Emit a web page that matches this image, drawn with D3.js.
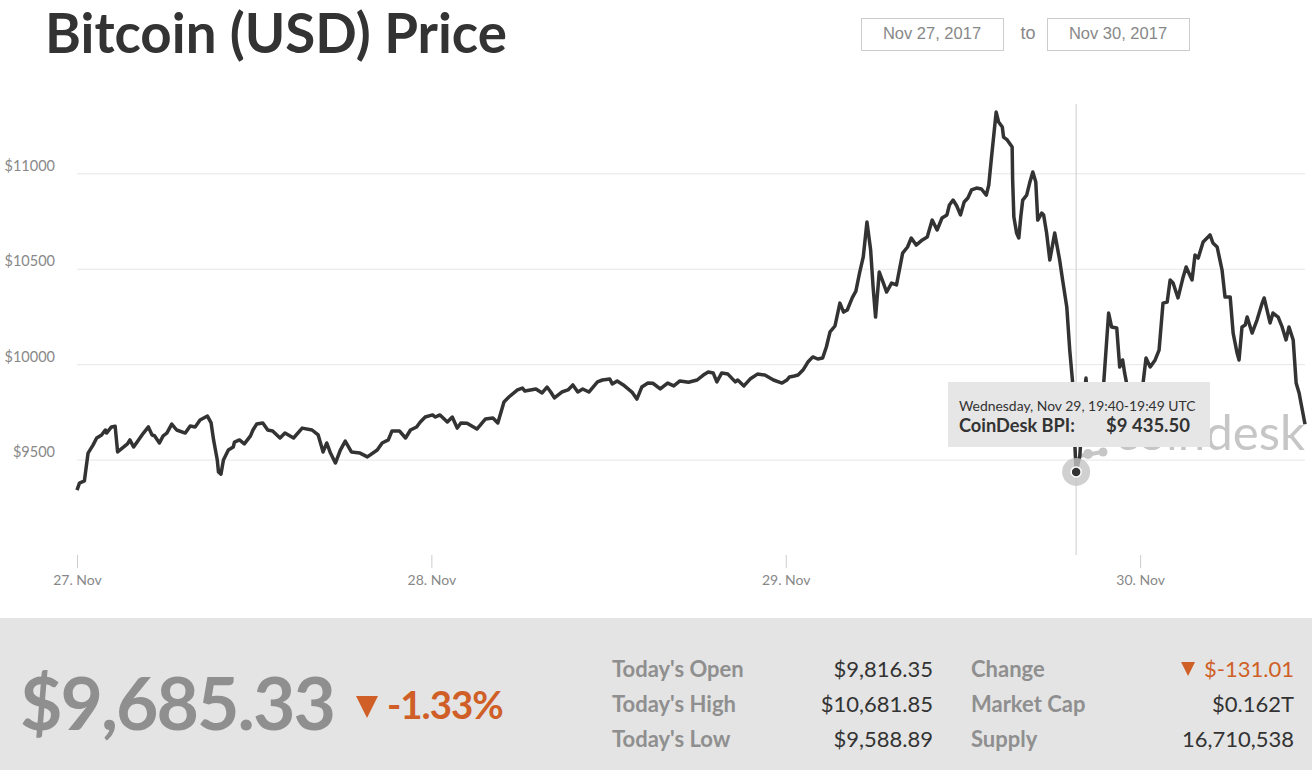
<!DOCTYPE html>
<html>
<head>
<meta charset="utf-8">
<title>Bitcoin (USD) Price</title>
<script src="https://cdnjs.cloudflare.com/ajax/libs/d3/7.8.5/d3.min.js"></script>
<style>
  body { margin: 0; background: #fff; }
  svg { display: block; }
</style>
</head>
<body>
<script>
// CoinDesk BPI readings, [UTC time of day, USD]
var nov27 = [["00:00",9340],["00:10",9377],["00:30",9388],["00:45",9534],["01:05",9576],["01:20",9613],["01:40",9629],["01:55",9655],["02:00",9639],["02:20",9671],["02:35",9675],["02:45",9540],["03:05",9561],["03:25",9582],["03:35",9603],["03:50",9566],["04:10",9603],["04:30",9639],["04:50",9671],["05:05",9629],["05:15",9625],["05:35",9587],["05:50",9624],["06:05",9639],["06:25",9686],["06:45",9655],["07:20",9639],["07:40",9676],["08:00",9671],["08:20",9707],["08:50",9728],["09:05",9692],["09:15",9603],["09:30",9498],["09:35",9435],["09:45",9424],["09:55",9498],["10:15",9550],["10:35",9566],["10:40",9592],["11:00",9603],["11:20",9582],["11:45",9624],["11:55",9655],["12:10",9686],["12:35",9692],["12:55",9655],["13:15",9650],["13:45",9613],["14:05",9639],["14:40",9613],["15:15",9665],["15:55",9655],["16:20",9629],["16:40",9540],["16:55",9587],["17:10",9534],["17:30",9482],["17:50",9550],["18:10",9597],["18:35",9540],["19:10",9534],["19:40",9514],["20:20",9550],["20:40",9587],["21:05",9603],["21:20",9650],["21:50",9650],["22:15",9613],["22:35",9655],["23:00",9671],["23:15",9697],["23:35",9723]];

var nov28 = [["00:05",9734],["00:15",9723],["00:35",9734],["01:05",9697],["01:25",9723],["01:45",9665],["02:00",9692],["02:25",9690],["03:05",9660],["03:40",9713],["04:10",9718],["04:30",9692],["04:55",9802],["05:15",9828],["05:50",9865],["06:10",9875],["06:20",9859],["07:05",9870],["07:30",9849],["07:50",9880],["08:05",9854],["08:20",9823],["08:50",9854],["09:15",9865],["09:35",9891],["09:55",9854],["10:15",9870],["10:40",9854],["11:15",9907],["11:35",9917],["12:05",9922],["12:15",9896],["12:35",9912],["13:00",9891],["13:35",9854],["13:55",9817],["14:15",9880],["14:40",9901],["15:00",9900],["15:30",9870],["16:00",9901],["16:25",9886],["16:50",9912],["17:25",9905],["18:00",9917],["18:25",9943],["18:45",9959],["19:05",9954],["19:20",9907],["19:40",9954],["20:05",9948],["20:35",9907],["20:45",9917],["21:10",9886],["21:35",9922],["22:05",9948],["22:35",9943],["23:10",9917],["23:45",9901]];

var nov29 = [["00:05",9917],["00:15",9933],["00:35",9938],["00:50",9943],["01:10",9969],["01:30",10011],["01:50",10038],["02:10",10027],["02:30",10032],["02:45",10090],["03:00",10169],["03:20",10200],["03:40",10320],["03:55",10273],["04:10",10284],["04:30",10347],["04:45",10383],["05:00",10478],["05:15",10562],["05:30",10745],["05:45",10598],["05:55",10404],["06:05",10247],["06:20",10483],["06:35",10431],["06:50",10378],["07:10",10425],["07:30",10415],["07:55",10582],["08:15",10614],["08:30",10661],["08:50",10624],["09:15",10651],["09:35",10666],["09:55",10755],["10:15",10703],["10:35",10766],["10:55",10782],["11:05",10834],["11:20",10860],["11:35",10829],["11:50",10782],["12:05",10850],["12:20",10871],["12:35",10913],["12:55",10923],["13:15",10918],["13:35",10886],["13:45",10939],["13:55",11070],["14:15",11321],["14:25",11269],["14:40",11243],["14:45",11190],["15:00",11175],["15:20",11138],["15:22",10965],["15:27",10771],["15:38",10687],["15:47",10661],["15:55",10771],["16:03",10860],["16:19",10886],["16:31",10949],["16:44",11007],["16:56",10955],["17:04",10755],["17:20",10792],["17:28",10782],["17:40",10687],["17:53",10546],["18:13",10687],["18:33",10546],["18:45",10441],["19:02",10300],["19:14",10074],["19:26",9901],["19:32",9655],["19:40",9435.5],["19:55",9520],["20:08",9780],["20:20",9927],["20:32",9710],["20:59",9650],["21:27",9700],["21:32",9901],["21:52",10268],["22:04",10195],["22:25",10190],["22:37",9985],["22:49",10022],["22:57",9954],["23:05",9901],["23:21",9710],["23:41",9760]];

var nov30 = [["00:12",9901],["00:24",10032],["00:41",9985],["01:01",10022],["01:17",10074],["01:33",10320],["01:50",10326],["02:02",10441],["02:14",10425],["02:34",10347],["02:55",10457],["03:07",10509],["03:31",10441],["03:43",10572],["03:56",10556],["04:16",10640],["04:44",10677],["04:56",10635],["05:13",10614],["05:33",10493],["05:45",10352],["06:06",10352],["06:18",10163],["06:34",10058],["06:42",10022],["06:54",10195],["07:07",10205],["07:15",10247],["07:35",10163],["07:55",10231],["08:16",10320],["08:24",10347],["08:48",10216],["09:00",10268],["09:21",10247],["09:37",10195],["09:53",10127],["10:05",10195],["10:22",10127],["10:34",9901],["10:46",9849],["11:10",9685.33]];

var yTicks = [9500, 10000, 10500, 11000];
var dayTicks = ["2017-11-27 00:00", "2017-11-28 00:00", "2017-11-29 00:00", "2017-11-30 00:00"];
var dateRange = ["Nov 27, 2017", "Nov 30, 2017"];

var hoverTime = "2017-11-29 19:40";
var hoverPrice = 9435.50;
var hoverLabel = "Wednesday, Nov 29, 19:40-19:49 UTC";

var currentPrice = "$9,685.33";
var currentChange = "-1.33%";
var statLabels = ["Today's Open", "Today's High", "Today's Low"];
var statValues = ["$9,816.35", "$10,681.85", "$9,588.89"];
var infoLabels = ["Change", "Market Cap", "Supply"];
var infoValues = ["$-131.01", "$0.162T", "16,710,538"];

var W = 1312, H = 770;
var sans = "Lato, 'Open Sans', sans-serif";
var orange = "#cf5f26";

var parse = d3.utcParse("%Y-%m-%d %H:%M");
function day(date, rows) {
    return rows.map(function(r) { return {t: parse(date + " " + r[0]), v: r[1]}; });
}
var series = day("2017-11-27", nov27)
    .concat(day("2017-11-28", nov28))
    .concat(day("2017-11-29", nov29))
    .concat(day("2017-11-30", nov30));

var x = d3.scaleUtc()
    .domain([parse("2017-11-27 00:00"), parse("2017-11-30 11:10")])
    .range([77, 1305]);
var y = d3.scaleLinear()
    .domain([9000, 11400])
    .range([555, 97]);

var svg = d3.select("body").append("svg")
    .attr("width", W)
    .attr("height", H);

function fit(sel, w) {
    var len = sel.node().getComputedTextLength();
    sel.attr("font-size", parseFloat(sel.attr("font-size")) * w / len);
}

// title
svg.append("text")
    .attr("x", 45).attr("y", 53)
    .attr("font-family", sans).attr("font-weight", 700)
    .attr("font-size", 48).attr("fill", "#333")
    .text("Bitcoin (USD) Price")
    .call(fit, 462);

// date range boxes
var boxX = [861, 1047];
dateRange.forEach(function(d, i) {
    svg.append("rect")
        .attr("x", boxX[i] + 0.5).attr("y", 18.5)
        .attr("width", 142).attr("height", 32)
        .attr("fill", "#fff").attr("stroke", "#ccc");
    svg.append("text")
        .attr("x", boxX[i] + 71).attr("y", 39)
        .attr("text-anchor", "middle")
        .attr("font-family", "'Liberation Sans', Arial, sans-serif")
        .attr("font-size", 16.5).attr("fill", "#888")
        .text(d);
});
svg.append("text")
    .attr("x", 1028).attr("y", 39)
    .attr("text-anchor", "middle")
    .attr("font-family", "'Liberation Sans', Arial, sans-serif")
    .attr("font-size", 18).attr("fill", "#888")
    .text("to");

// y grid + labels
var yAxis = svg.append("g")
    .attr("transform", "translate(77,0)")
    .call(d3.axisLeft(y).tickValues(yTicks).tickSize(-(1305 - 77))
        .tickFormat(function(d) { return "$" + d; }));
yAxis.select(".domain").remove();
yAxis.selectAll(".tick line").attr("stroke", "#e6e6e6");
yAxis.selectAll(".tick text")
    .attr("x", -22).attr("y", -3).attr("dy", null)
    .attr("font-family", sans).attr("font-size", 14.5).attr("fill", "#888");

// x axis
var xAxis = svg.append("g")
    .attr("transform", "translate(0,555)")
    .call(d3.axisBottom(x).tickValues(dayTicks.map(parse)).tickSize(13)
        .tickFormat(d3.utcFormat("%-d. %b")));
xAxis.select(".domain").remove();
xAxis.selectAll(".tick line").attr("stroke", "#ccc");
xAxis.selectAll(".tick text")
    .attr("y", 20)
    .attr("font-family", sans).attr("font-size", 14).attr("fill", "#888");

// coindesk watermark (mostly behind the tooltip)
var wm = svg.append("g").attr("fill", "#c6c6c6");
wm.append("text")
    .attr("x", 1305).attr("y", 450)
    .attr("text-anchor", "end")
    .attr("font-family", sans).attr("font-size", 46)
    .text("coindesk")
    .call(fit, 190);
wm.append("line")
    .attr("x1", 1080).attr("y1", 456).attr("x2", 1102).attr("y2", 452)
    .attr("stroke", "#c6c6c6").attr("stroke-width", 4);
wm.append("circle").attr("cx", 1088).attr("cy", 454).attr("r", 5);
wm.append("circle").attr("cx", 1103).attr("cy", 452).attr("r", 4.5);

// crosshair
var hx = x(parse(hoverTime));
svg.append("line")
    .attr("x1", hx).attr("x2", hx)
    .attr("y1", 104).attr("y2", 555)
    .attr("stroke", "#ccc").attr("stroke-width", 1);

// price line
var line = d3.line()
    .x(function(d) { return x(d.t); })
    .y(function(d) { return y(d.v); });
svg.append("path")
    .datum(series)
    .attr("fill", "none")
    .attr("stroke", "#333")
    .attr("stroke-width", 3.5)
    .attr("stroke-linejoin", "round")
    .attr("d", line);

// hover marker
svg.append("circle")
    .attr("cx", hx).attr("cy", y(hoverPrice)).attr("r", 14)
    .attr("fill", "#c4c4c4").attr("opacity", 0.8);
svg.append("circle")
    .attr("cx", hx).attr("cy", y(hoverPrice)).attr("r", 5)
    .attr("fill", "#333").attr("stroke", "#fff").attr("stroke-width", 1.5);

// tooltip
var tip = svg.append("g").attr("transform", "translate(948,382)");
tip.append("rect")
    .attr("width", 262).attr("height", 65)
    .attr("fill", "#e6e6e6");
tip.append("text")
    .attr("x", 11).attr("y", 29)
    .attr("font-family", sans).attr("font-size", 12.5).attr("fill", "#333")
    .text(hoverLabel)
    .call(fit, 237);
tip.append("text")
    .attr("x", 11).attr("y", 50)
    .attr("font-family", sans).attr("font-weight", 700)
    .attr("font-size", 15).attr("fill", "#333")
    .text("CoinDesk BPI:")
    .call(fit, 116);
tip.append("text")
    .attr("x", 158).attr("y", 50)
    .attr("font-family", sans).attr("font-weight", 700)
    .attr("font-size", 15).attr("fill", "#333")
    .text("$" + d3.format(",.2f")(hoverPrice).replace(",", " "))
    .call(fit, 84);

// summary panel
svg.append("rect")
    .attr("x", 0).attr("y", 618)
    .attr("width", W).attr("height", H - 618)
    .attr("fill", "#e4e4e4");

svg.append("text")
    .attr("x", 20).attr("y", 730)
    .attr("font-family", sans).attr("font-weight", 700)
    .attr("font-size", 66).attr("fill", "#8f8f8f")
    .attr("letter-spacing", -2)
    .text(currentPrice)
    .call(fit, 312);

svg.append("path")
    .attr("d", "M356,696 L378,696 L367,718 Z")
    .attr("fill", orange);
svg.append("text")
    .attr("x", 387).attr("y", 719)
    .attr("font-family", sans).attr("font-weight", 700)
    .attr("font-size", 34).attr("fill", orange)
    .attr("letter-spacing", -1)
    .text(currentChange)
    .call(fit, 115);

var rowY = [677, 712, 747];
var statFont = 22;
statLabels.forEach(function(d, i) {
    svg.append("text")
        .attr("x", 612).attr("y", rowY[i])
        .attr("font-family", sans).attr("font-weight", 700)
        .attr("font-size", statFont).attr("fill", "#8f8f8f")
        .text(d);
    svg.append("text")
        .attr("x", 933).attr("y", rowY[i])
        .attr("text-anchor", "end")
        .attr("font-family", sans)
        .attr("font-size", statFont).attr("fill", "#333")
        .text(statValues[i]);
});
infoLabels.forEach(function(d, i) {
    svg.append("text")
        .attr("x", 971).attr("y", rowY[i])
        .attr("font-family", sans).attr("font-weight", 700)
        .attr("font-size", statFont).attr("fill", "#8f8f8f")
        .text(d);
    svg.append("text")
        .attr("x", 1294).attr("y", rowY[i])
        .attr("text-anchor", "end")
        .attr("font-family", sans)
        .attr("font-size", statFont).attr("fill", i === 0 ? orange : "#333")
        .text(infoValues[i]);
});
// little down arrow in front of the change value
var chg = svg.selectAll("text").filter(function() { return this.textContent === infoValues[0]; });
var chgLeft = 1294 - chg.node().getComputedTextLength();
svg.append("path")
    .attr("d", "M" + (chgLeft - 23) + ",662 L" + (chgLeft - 9) + ",662 L" + (chgLeft - 16) + ",676 Z")
    .attr("fill", orange);
</script>
</body>
</html>
